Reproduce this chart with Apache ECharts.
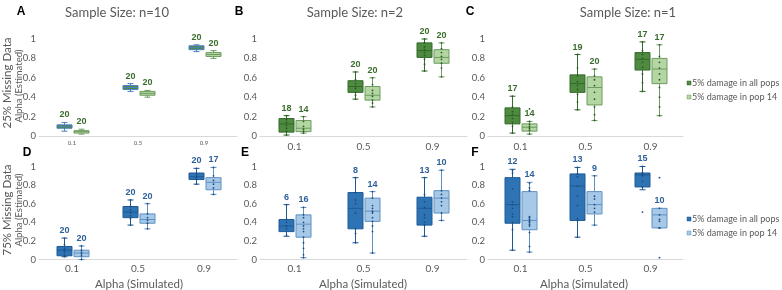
<!DOCTYPE html>
<html>
<head>
<meta charset="utf-8">
<script src="https://cdn.jsdelivr.net/npm/echarts@6/dist/echarts.min.js"></script>
<style>
html, body { margin: 0; padding: 0; background: #fff; }
#main { width: 782px; height: 290px; }
</style>
</head>
<body>
<div id="main"></div>
<script>
var cats = ['0.1', '0.5', '0.9'];
var titles = ['Sample Size: n=10', 'Sample Size: n=2', 'Sample Size: n=1'];
var letters = ['A', 'B', 'C', 'D', 'E', 'F'];
var rowTitles = ['25% Missing Data', '75% Missing Data'];
var legendNames = ['5% damage in all pops', '5% damage in pop 14'];

// box stats per category: [min, q1, median, q3, max]
var aAll = [[0.05, 0.08, 0.10, 0.115, 0.14], [0.46, 0.48, 0.50, 0.52, 0.54], [0.87, 0.89, 0.91, 0.93, 0.94]];
var aPop = [[0.02, 0.03, 0.045, 0.055, 0.07], [0.40, 0.42, 0.44, 0.46, 0.47], [0.80, 0.82, 0.84, 0.86, 0.88]];
var bAll = [[0.01, 0.04, 0.125, 0.18, 0.21], [0.38, 0.45, 0.51, 0.57, 0.66], [0.67, 0.81, 0.88, 0.96, 1.0]];
var bPop = [[0.03, 0.045, 0.08, 0.16, 0.20], [0.30, 0.37, 0.42, 0.51, 0.60], [0.61, 0.75, 0.81, 0.89, 0.96]];
var cAll = [[0.03, 0.125, 0.21, 0.29, 0.41], [0.27, 0.45, 0.54, 0.63, 0.84], [0.46, 0.68, 0.79, 0.86, 0.97]];
var cPop = [[0.02, 0.05, 0.09, 0.125, 0.15], [0.16, 0.32, 0.50, 0.61, 0.69], [0.21, 0.54, 0.69, 0.80, 0.94]];
var dAll = [[0.03, 0.04, 0.10, 0.14, 0.23], [0.37, 0.45, 0.51, 0.57, 0.64], [0.81, 0.86, 0.89, 0.93, 0.98]];
var dPop = [[0.0, 0.03, 0.07, 0.10, 0.145], [0.33, 0.39, 0.43, 0.49, 0.60], [0.70, 0.75, 0.83, 0.88, 0.99]];
var eAll = [[0.25, 0.30, 0.36, 0.43, 0.59], [0.18, 0.33, 0.55, 0.72, 0.88], [0.25, 0.37, 0.55, 0.67, 0.88]];
var ePop = [[0.02, 0.24, 0.38, 0.48, 0.56], [0.07, 0.41, 0.52, 0.66, 0.73], [0.42, 0.50, 0.66, 0.74, 0.96]];
var fAll = [[0.10, 0.39, 0.59, 0.88, 0.97], [0.24, 0.42, 0.79, 0.92, 0.99], [0.75, 0.78, 0.91, 0.93, 1.0]];
var fPop = [[0.08, 0.32, 0.42, 0.73, 0.83], [0.37, 0.49, 0.59, 0.73, 0.90], [0.34, 0.34, 0.48, 0.55, 0.55]];

// counts shown above the boxes
var aAllN = [20, 20, 20], aPopN = [20, 20, 20];
var bAllN = [18, 20, 20], bPopN = [14, 20, 20];
var cAllN = [17, 19, 17], cPopN = [14, 20, 17];
var dAllN = [20, 20, 20], dPopN = [20, 20, 17];
var eAllN = [6, 8, 13], ePopN = [16, 14, 10];
var fAllN = [12, 13, 15], fPopN = [14, 9, 10];

// individual estimates (dots), per category
var aAllPts = [[], [], []];
var aPopPts = [[], [], []];
var bAllPts = [[0.21, 0.17, 0.14, 0.11, 0.08, 0.05, 0.01], [0.66, 0.58, 0.54, 0.51, 0.49, 0.45, 0.42, 0.38], [1.0, 0.96, 0.92, 0.89, 0.86, 0.83, 0.79, 0.74, 0.67]];
var bPopPts = [[0.20, 0.15, 0.10, 0.07, 0.05, 0.03], [0.60, 0.53, 0.47, 0.44, 0.41, 0.37, 0.34, 0.30], [0.96, 0.90, 0.86, 0.82, 0.79, 0.75, 0.70, 0.61]];
var cAllPts = [[0.41, 0.30, 0.25, 0.22, 0.18, 0.14, 0.10, 0.03], [0.84, 0.70, 0.62, 0.56, 0.52, 0.48, 0.43, 0.35, 0.27], [0.97, 0.88, 0.84, 0.80, 0.76, 0.71, 0.64, 0.55, 0.46]];
var cPopPts = [[0.28, 0.15, 0.12, 0.10, 0.08, 0.06, 0.02], [0.69, 0.62, 0.58, 0.52, 0.45, 0.38, 0.30, 0.22, 0.16], [0.94, 0.82, 0.76, 0.70, 0.64, 0.58, 0.50, 0.40, 0.30, 0.21]];
var dAllPts = [[0.23, 0.16, 0.12, 0.10, 0.08, 0.05, 0.03], [0.64, 0.57, 0.53, 0.50, 0.47, 0.44, 0.37], [0.98, 0.92, 0.90, 0.88, 0.86, 0.81]];
var dPopPts = [[0.145, 0.10, 0.08, 0.06, 0.04, 0.0], [0.60, 0.49, 0.45, 0.42, 0.39, 0.33], [0.99, 0.90, 0.85, 0.81, 0.77, 0.70]];
var eAllPts = [[0.59, 0.43, 0.40, 0.36, 0.33, 0.26], [0.88, 0.72, 0.64, 0.60, 0.50, 0.33, 0.28, 0.18], [0.88, 0.70, 0.62, 0.56, 0.48, 0.45, 0.40, 0.37, 0.25]];
var ePopPts = [[0.56, 0.48, 0.45, 0.40, 0.36, 0.33, 0.30, 0.24, 0.18, 0.12, 0.05, 0.02], [0.73, 0.66, 0.58, 0.55, 0.52, 0.50, 0.45, 0.41, 0.36, 0.30, 0.07], [0.96, 0.74, 0.70, 0.66, 0.62, 0.58, 0.50, 0.42]];
var fAllPts = [[0.96, 0.93, 0.76, 0.62, 0.59, 0.55, 0.49, 0.46, 0.40, 0.32, 0.10], [0.99, 0.92, 0.89, 0.79, 0.68, 0.58, 0.44, 0.42, 0.24], [1.0, 0.93, 0.91, 0.90, 0.84, 0.78, 0.51]];
var fPopPts = [[0.82, 0.77, 0.74, 0.46, 0.45, 0.43, 0.41, 0.40, 0.38, 0.36, 0.29, 0.14, 0.08], [0.90, 0.68, 0.65, 0.59, 0.55, 0.51, 0.37], [0.88, 0.55, 0.48, 0.43, 0.41, 0.34, 0.34, 0.02]];

var panels = [
  { all: aAll, pop: aPop, nAll: aAllN, nPop: aPopN, pAll: aAllPts, pPop: aPopPts },
  { all: bAll, pop: bPop, nAll: bAllN, nPop: bPopN, pAll: bAllPts, pPop: bPopPts },
  { all: cAll, pop: cPop, nAll: cAllN, nPop: cPopN, pAll: cAllPts, pPop: cPopPts },
  { all: dAll, pop: dPop, nAll: dAllN, nPop: dPopN, pAll: dAllPts, pPop: dPopPts },
  { all: eAll, pop: ePop, nAll: eAllN, nPop: ePopN, pAll: eAllPts, pPop: ePopPts },
  { all: fAll, pop: fPop, nAll: fAllN, nPop: fPopN, pAll: fAllPts, pPop: fPopPts }
];

// layout of the six plot areas
var grids = [
  { left: 39, top: 39, width: 198, height: 97 },
  { left: 260, top: 39, width: 207, height: 97 },
  { left: 488, top: 39, width: 195, height: 97 },
  { left: 39, top: 166.5, width: 198, height: 93 },
  { left: 260, top: 166.5, width: 207, height: 93 },
  { left: 488, top: 166.5, width: 195, height: 93 }
];

var green = { allFill: '#4f8a41', allStroke: '#336b2a', popFill: '#b3d6a2', popStroke: '#6e9c60', dot: '#2c5a24', label: '#3a6c2d' };
var blue = { allFill: '#2e74b5', allStroke: '#1f5a95', popFill: '#a7c9e8', popStroke: '#5f90c4', dot: '#1d4c80', label: '#2d5f99' };
var FONT = 'Lato, "Open Sans", sans-serif';

function boxRender(off, fill, stroke, labelColor) {
  return function (params, api) {
    var c = api.value(0);
    var lo = api.coord([c, api.value(1)]);
    var q1 = api.coord([c, api.value(2)]);
    var md = api.coord([c, api.value(3)]);
    var q3 = api.coord([c, api.value(4)]);
    var hi = api.coord([c, api.value(5)]);
    var x = Math.round(lo[0] + off) + 0.5;
    var w = 15, cap = 3;
    var ls = { stroke: stroke, lineWidth: 1 };
    return {
      type: 'group',
      children: [
        { type: 'line', shape: { x1: x, y1: hi[1], x2: x, y2: lo[1] }, style: ls },
        { type: 'line', shape: { x1: x - cap, y1: hi[1], x2: x + cap, y2: hi[1] }, style: ls },
        { type: 'line', shape: { x1: x - cap, y1: lo[1], x2: x + cap, y2: lo[1] }, style: ls },
        { type: 'rect', shape: { x: x - w / 2, y: q3[1], width: w, height: Math.max(q1[1] - q3[1], 1) },
          style: { fill: fill, stroke: stroke, lineWidth: 1 } },
        { type: 'line', shape: { x1: x - w / 2, y1: md[1], x2: x + w / 2, y2: md[1] }, style: ls },
        { type: 'text', style: { text: String(api.value(6)), x: x, y: hi[1] - 3, align: 'center', verticalAlign: 'bottom',
          fill: labelColor, fontSize: 9, fontWeight: 'bold', fontFamily: 'Arial, "Liberation Sans", sans-serif' } }
      ]
    };
  };
}

function dotRender(off, color) {
  return function (params, api) {
    var p = api.coord([api.value(0), api.value(1)]);
    return { type: 'circle', shape: { cx: Math.round(p[0] + off) + 0.5, cy: p[1], r: 0.9 }, style: { fill: color } };
  };
}

var option = {
  animation: false,
  backgroundColor: '#fff',
  grid: [], xAxis: [], yAxis: [], series: [],
  graphic: []
};

panels.forEach(function (pn, i) {
  var top = i < 3;
  var pal = top ? green : blue;
  var g = grids[i];
  option.grid.push({ left: g.left, top: g.top, width: g.width, height: g.height });
  option.xAxis.push({
    type: 'category', gridIndex: i, data: cats,
    axisTick: { show: false },
    axisLine: { lineStyle: { color: '#d9d9d9', width: 1 } },
    axisLabel: { color: '#595959', fontFamily: FONT, fontSize: i === 0 ? 6 : 10, margin: i === 0 ? 4 : (top ? 6 : 4) }
  });
  option.yAxis.push({
    type: 'value', gridIndex: i, min: 0, max: 1, interval: 0.2,
    splitLine: { show: false }, axisLine: { show: false }, axisTick: { show: false },
    axisLabel: { color: '#595959', fontFamily: FONT, fontSize: 9.5, margin: 3 }
  });
  var allData = pn.all.map(function (s, k) { return [k].concat(s, [pn.nAll[k]]); });
  var popData = pn.pop.map(function (s, k) { return [k].concat(s, [pn.nPop[k]]); });
  // panel A: dark boxes have a blue outline
  var allStroke = i === 0 ? '#4a7fc1' : pal.allStroke;
  option.series.push({ type: 'custom', name: legendNames[0], xAxisIndex: i, yAxisIndex: i,
    renderItem: boxRender(-8.5, pal.allFill, allStroke, pal.label), data: allData, encode: { x: 0, y: [1, 5] } });
  option.series.push({ type: 'custom', name: legendNames[1], xAxisIndex: i, yAxisIndex: i,
    renderItem: boxRender(8.5, pal.popFill, pal.popStroke, pal.label), data: popData, encode: { x: 0, y: [1, 5] } });
  var dAll = [], dPop = [];
  pn.pAll.forEach(function (arr, k) { arr.forEach(function (v) { dAll.push([k, v]); }); });
  pn.pPop.forEach(function (arr, k) { arr.forEach(function (v) { dPop.push([k, v]); }); });
  option.series.push({ type: 'custom', xAxisIndex: i, yAxisIndex: i, renderItem: dotRender(-8.5, pal.dot), data: dAll, z: 3 });
  option.series.push({ type: 'custom', xAxisIndex: i, yAxisIndex: i, renderItem: dotRender(8.5, pal.dot), data: dPop, z: 3 });
});

var gr = option.graphic;
function txt(t, x, y, opts) {
  var o = opts || {};
  gr.push({
    type: 'text', x: x, y: y, rotation: o.rot || 0,
    style: { text: t, x: 0, y: 0, align: o.align || 'center', verticalAlign: 'middle',
      fill: o.color || '#595959', fontSize: o.size || 10, fontWeight: o.weight || 'normal', fontFamily: o.font || FONT }
  });
}

// column titles
txt(titles[0], 117, 13, { size: 13 });
txt(titles[1], 355, 13, { size: 13 });
txt(titles[2], 628, 13, { size: 13 });

// panel letters
var letterPos = [[21, 12], [239, 12], [470, 12], [27, 153], [245, 153], [475, 153]];
letters.forEach(function (l, i) {
  txt(l, letterPos[i][0], letterPos[i][1], { size: 12, weight: 'bold', color: '#000', font: 'Arial, "Liberation Sans", sans-serif' });
});

// row titles
txt(rowTitles[0], 7, 83, { rot: Math.PI / 2, size: 11.5 });
txt('Alpha (Estimated)', 19, 86, { rot: Math.PI / 2, size: 9.5 });
txt(rowTitles[1], 7, 210, { rot: Math.PI / 2, size: 11.5 });
txt('Alpha (Estimated)', 19, 210, { rot: Math.PI / 2, size: 9.5 });

// x axis titles
txt('Alpha (Simulated)', 139, 284, { size: 11.5 });
txt('Alpha (Simulated)', 363, 284, { size: 11.5 });
txt('Alpha (Simulated)', 584, 284, { size: 11.5 });

// legends
[[83, green], [219, blue]].forEach(function (lg) {
  var y = lg[0], pal = lg[1];
  gr.push({ type: 'rect', shape: { x: 687, y: y - 2, width: 4, height: 4 }, style: { fill: pal.allFill, stroke: pal.allStroke, lineWidth: 0.5 } });
  gr.push({ type: 'rect', shape: { x: 687, y: y + 12, width: 4, height: 4 }, style: { fill: pal.popFill, stroke: pal.popStroke, lineWidth: 0.5 } });
  txt(legendNames[0], 692, y, { align: 'left', size: 9 });
  txt(legendNames[1], 692, y + 14, { align: 'left', size: 9 });
});

var chart = echarts.init(document.getElementById('main'), null, { renderer: 'canvas' });
chart.setOption(option);
</script>
</body>
</html>
